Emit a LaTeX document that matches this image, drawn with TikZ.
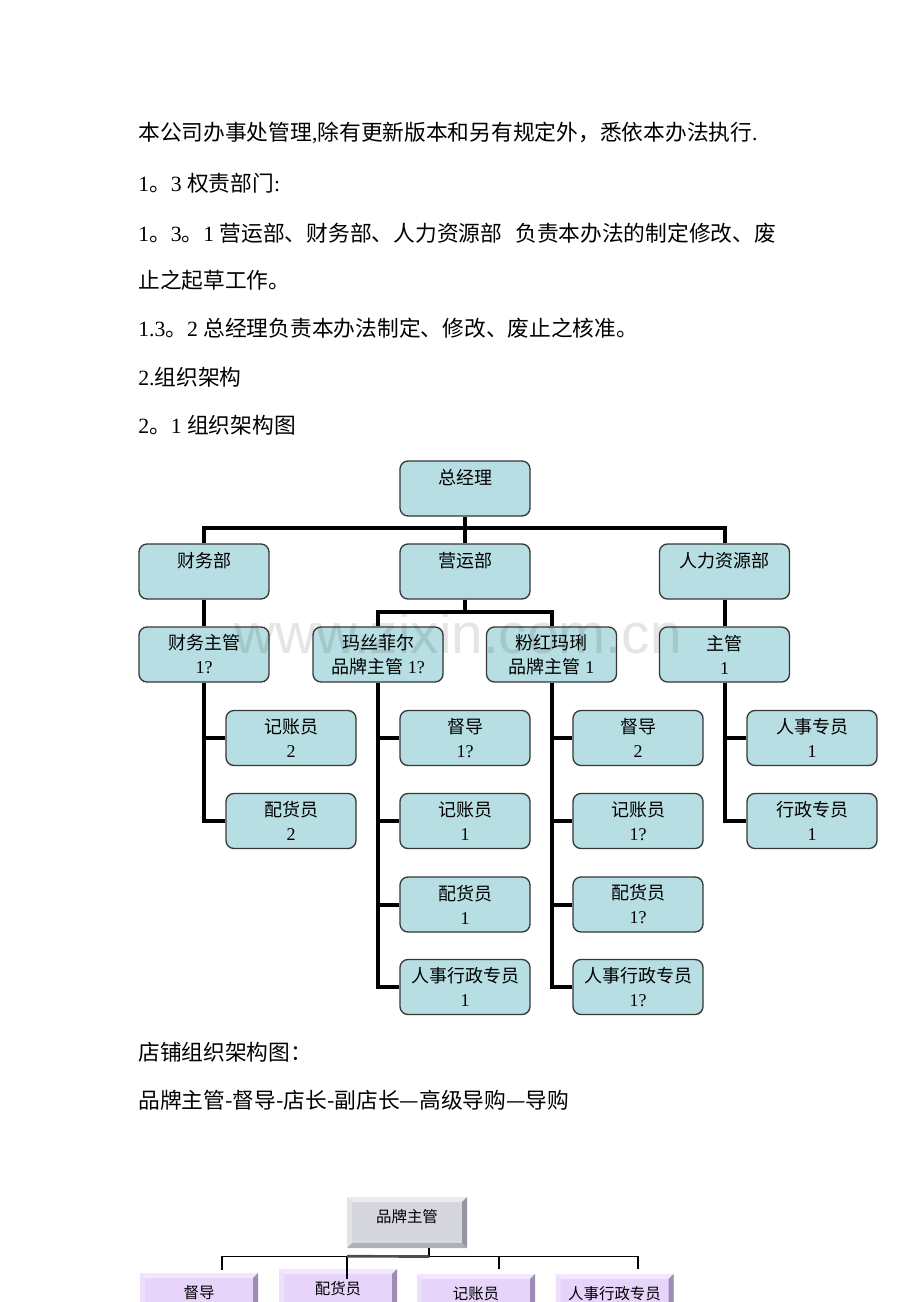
\documentclass[tikz,border=0pt]{standalone}
\usepackage{fontspec}
\setmainfont{Liberation Serif}
\newfontfamily\cjk{Noto Sans CJK SC}
\newfontfamily\wmfont{Liberation Sans}
\newcommand{\zh}[1]{{\cjk #1}}
\definecolor{boxfill}{RGB}{183,222,226}
\definecolor{boxline}{RGB}{55,55,55}
\definecolor{greyface}{RGB}{214,214,222}
\definecolor{greytop}{RGB}{234,234,240}
\definecolor{greyleft}{RGB}{226,226,232}
\definecolor{greyright}{RGB}{150,150,160}
\definecolor{greybot}{RGB}{176,176,186}
\definecolor{lilacface}{RGB}{230,212,250}
\definecolor{lilactop}{RGB}{242,232,253}
\definecolor{lilacleft}{RGB}{236,224,251}
\definecolor{lilacright}{RGB}{158,140,180}
\definecolor{lilacbot}{RGB}{190,172,212}
\begin{document}
\begin{tikzpicture}[x=0.75pt,y=-0.75pt,
  para/.style={anchor=base west,inner sep=0pt,font=\fontsize{16.3}{20}\selectfont},
  post/.style={draw=boxline,line width=1pt,fill=boxfill,rounded corners=6pt,
    minimum width=97.5pt,minimum height=41.25pt,inner sep=0pt,align=center,
    font=\fontsize{13.5}{18}\selectfont},
  link/.style={line width=3pt},
  twig/.style={line width=1pt},
  bevel/.style n args={5}{fill=#1,inner sep=0pt,text height=10pt,text depth=10pt,
    minimum height=38.25pt,font=\cjk\fontsize{11.6}{14}\selectfont,
    path picture={
      \coordinate (nw) at (path picture bounding box.north west);
      \coordinate (ne) at (path picture bounding box.north east);
      \coordinate (sw) at (path picture bounding box.south west);
      \coordinate (se) at (path picture bounding box.south east);
      \fill[#2] (nw) -- (ne) -- ([shift={(-\bv,-\bv)}]ne) -- ([shift={(\bv,-\bv)}]nw) -- cycle;
      \fill[#3] (nw) -- ([shift={(\bv,-\bv)}]nw) -- ([shift={(\bv,\bv)}]sw) -- (sw) -- cycle;
      \fill[#4] (ne) -- (se) -- ([shift={(-\bv,\bv)}]se) -- ([shift={(-\bv,-\bv)}]ne) -- cycle;
      \fill[#5] (sw) -- ([shift={(\bv,\bv)}]sw) -- ([shift={(-\bv,\bv)}]se) -- (se) -- cycle;
    }},
  greybtn/.style={bevel={greyface}{greytop}{greyleft}{greyright}{greybot},minimum width=90pt},
  lilacbtn/.style={bevel={lilacface}{lilactop}{lilacleft}{lilacright}{lilacbot},minimum width=88.5pt}]
\def\bv{3.75pt} % bevel of the buttons
\useasboundingbox (0,0) rectangle (920,1302);
\clip (0,0) rectangle (920,1302);
\fill[white] (0,0) rectangle (920,1302);

% text
\node[para] (l1) at (138,141) {\zh{本公司办事处管理},\zh{除有更新版本和另有规定外，悉依本办法执行}.};
\node[para] (l2) at (138,191) {1\zh{。}3 \zh{权责部门}:};
\node[para] (l3) at (138,241) {1\zh{。}3\zh{。}1 \zh{营运部、财务部、人力资源部}\hspace{0.6em}\zh{负责本办法的制定修改、废}};
\node[para] (l4) at (138,288) {\zh{止之起草工作。}};
\node[para] (l5) at (138,336) {1.3\zh{。}2 \zh{总经理负责本办法制定、修改、废止之核准。}};
\node[para] (l6) at (138,385) {2.\zh{组织架构}};
\node[para] (l7) at (138,433) {2\zh{。}1 \zh{组织架构图}};

% chart
\node[post] (zjl) at (465,488.5) {\zh{总经理}\\\mbox{}};
\node[post] (cwb) at (204,571.5) {\zh{财务部}\\\mbox{}};
\node[post] (yyb) at (465,571.5) {\zh{营运部}\\\mbox{}};
\node[post] (rlb) at (724.5,571.5) {\zh{人力资源部}\\\mbox{}};
\node[post] (cwzg) at (204,654.5) {\zh{财务主管}\\1?};
\node[post] (msfe) at (378,654.5) {\zh{玛丝菲尔}\\\zh{品牌主管} 1?};
\node[post] (fhml) at (551.5,654.5) {\zh{粉红玛琍}\\\zh{品牌主管} 1};
\node[post] (rlzg) at (724.5,654.5) {\zh{主管}\\1};
\node[post] (cwjz) at (291,738) {\zh{记账员}\\2};
\node[post] (cwph) at (291,821) {\zh{配货员}\\2};
\node[post] (msdd) at (465,738) {\zh{督导}\\1?};
\node[post] (msjz) at (465,821) {\zh{记账员}\\1};
\node[post] (msph) at (465,904.5) {\zh{配货员}\\1};
\node[post] (msrx) at (465,987) {\zh{人事行政专员}\\1};
\node[post] (fhdd) at (638,738) {\zh{督导}\\2};
\node[post] (fhjz) at (638,821) {\zh{记账员}\\1?};
\node[post] (fhph) at (638,904.5) {\zh{配货员}\\1?};
\node[post] (fhrx) at (638,987) {\zh{人事行政专员}\\1?};
\node[post] (rlrs) at (812,738) {\zh{人事专员}\\1};
\node[post] (rlxz) at (812,821) {\zh{行政专员}\\1};

\draw[link] (zjl) -- (yyb);
\draw[link] (cwb.north) -- ++(0,-15) -| (rlb.north);
\draw[link] (cwb) -- (cwzg);
\draw[link] (rlb) -- (rlzg);
\draw[link] (yyb.south) -- ++(0,14);
\draw[link] (msfe.north) -- ++(0,-14) -| (fhml.north);
\foreach \b in {cwjz,cwph} \draw[link] (cwzg.south) |- (\b.west);
\foreach \b in {msdd,msjz,msph,msrx} \draw[link] (msfe.south) |- (\b.west);
\foreach \b in {fhdd,fhjz,fhph,fhrx} \draw[link] (fhml.south) |- (\b.west);
\foreach \b in {rlrs,rlxz} \draw[link] (rlzg.south) |- (\b.west);

% store chart
\node[para] (l8) at (138,1060) {\zh{店铺组织架构图：}};
\node[para] (l9) at (138,1108) {\zh{品牌主管-督导-店长-副店长—高级导购—导购}};

\node[greybtn] (ppzg) at (407,1222.5) {品牌主管};
\node[lilacbtn] (dd) at (199,1298.5) {督导};
\node[lilacbtn] (ph) at (338,1294.5) {配货员};
\node[lilacbtn] (jz) at (476,1299.5) {记账员};
\node[lilacbtn] (rx) at (614.5,1299.5) {人事行政专员};

\coordinate (bus) at (429,1256.5);
\draw[twig] ([xshift=16.5pt]ppzg.south) -- (bus);
\draw[twig] ([xshift=17.25pt,yshift=2.25pt]dd.north) |- (bus) -| ([xshift=17.6pt,yshift=3.4pt]rx.north);
\draw[twig] ([xshift=17.25pt,yshift=3.4pt]jz.north) -- ++(0,-13.5);
\draw[twig] ([xshift=6.75pt,yshift=-7.5pt]ph.north) -- ++(0,-22.5);
\draw[line width=2pt,black!70] ([xshift=6.75pt]ph.north) ++(0,-12.5) -- (bus);

\node[font=\wmfont\fontsize{42.5}{50}\selectfont,text=black,text opacity=0.1,anchor=base] (wm) at (458,653) {www.zixin.com.cn};
\end{tikzpicture}
\end{document}
